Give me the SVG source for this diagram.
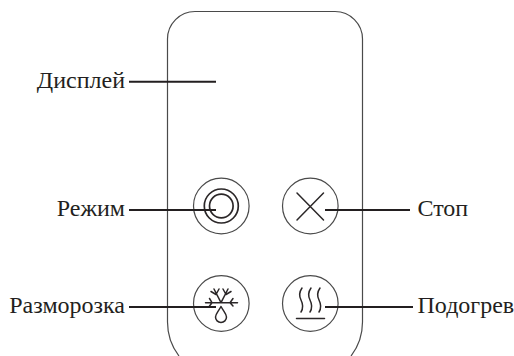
<svg xmlns="http://www.w3.org/2000/svg" width="514" height="356" viewBox="0 0 514 356">
<style>
.b{fill:none;stroke:#4a4a4a;stroke-width:1.2}
.i{fill:none;stroke:#2b2728;stroke-width:1.5;stroke-linecap:round;stroke-linejoin:round}
.c{fill:none;stroke:#231f20;stroke-width:2}
text{font-family:"Liberation Serif",serif;font-size:24px;fill:#231f20}
</style>
<rect width="514" height="356" fill="#fff"/>
<g id="body"><path class="b" d="M167.500 322V39A27.500 27.500 0 0 1 195 11.500H335A27.500 27.500 0 0 1 362.500 39V322C362.500 335 358 347 351 356M167.500 322C167.500 335 172 347 179 356"/></g>
<g id="mode"><circle class="b" cx="221.300" cy="206" r="27.800"/><circle class="i" cx="221.300" cy="206" r="17" style="stroke-width:1.700"/><circle class="i" cx="221.300" cy="206" r="11.800" style="stroke-width:1.700"/></g>
<g id="stop"><circle class="b" cx="310.300" cy="206" r="27.800"/><path class="i" d="M297 193L323.500 220M323.500 193L297 220"/></g>
<g id="defrost"><circle class="b" cx="221.300" cy="303.500" r="27.800"/><path class="i" d="M205.500 302.700H237.500M221 302.700L214 289M221 302.700L228 289M211 291.500L216 294.500L219 289M231 291.500L226 294.500L223 289M209.500 298.500L212 302.700L209.500 306M233 298.500L230 302.700L233 306M221 306.500C218 312 215.500 314 215.500 317A5.500 5.500 0 0 0 226.500 317C226.500 314 224 312 221 306.500Z"/></g>
<g id="heat"><circle class="b" cx="310.300" cy="303.500" r="27.800"/><path class="i" d="M302 288C298.500 293 299.500 297 301 300C303 304 303.500 308 301 312M311 288C307.500 293 308.500 297 310 300C312 304 312.500 308 310 312M320 288C316.500 293 317.500 297 319 300C321 304 321.500 308 319 312M296.500 318.500H324.500"/></g>
<g id="connectors"><path class="c" d="M129 81.700H216M129 210H216M129 307H216M325 210H410M325 307H413"/></g>
<g id="labels"><text x="125" y="88" text-anchor="end">Дисплей</text><text x="125" y="216" text-anchor="end">Режим</text><text x="125" y="313" text-anchor="end">Разморозка</text><text x="417.500" y="216">Стоп</text><text x="417.500" y="313">Подогрев</text></g>
</svg>
